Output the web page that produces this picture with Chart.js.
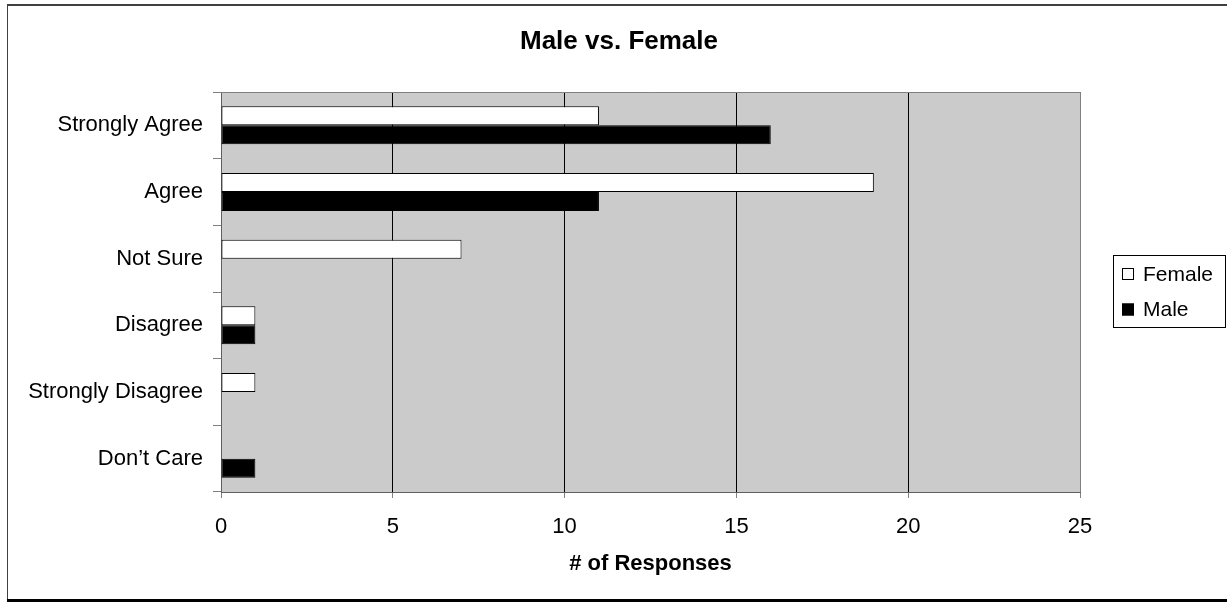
<!DOCTYPE html>
<html>
<head>
<meta charset="utf-8">
<title>Male vs. Female</title>
<script src="https://cdn.jsdelivr.net/npm/chart.js"></script>
<style>
  html, body { margin: 0; padding: 0; background: #fff; }
  #wrap { width: 1227px; height: 603px; position: relative; }
</style>
</head>
<body>
<div id="wrap"><canvas id="genderChart"></canvas></div>
<script>
// survey answers, top to bottom
const categories = ['Strongly Agree', 'Agree', 'Not Sure', 'Disagree', 'Strongly Disagree', 'Don’t Care'];
const femaleCounts = [11, 19, 7, 1, 1, 0];
const maleCounts = [16, 11, 0, 1, 0, 1];
const xTicks = [0, 5, 10, 15, 20, 25];

const FONT = "'Liberation Sans', Arial, sans-serif";

// white page, outer frame and the chart title
const frame = {
    id: 'frame',
    beforeDraw(chart) {
        const ctx = chart.ctx;
        const a = chart.chartArea;
        ctx.save();
        ctx.fillStyle = '#fff';
        ctx.fillRect(0, 0, chart.width, chart.height);
        ctx.fillStyle = '#404040';
        ctx.fillRect(7, 4, chart.width - 7, 2);
        ctx.fillRect(7, 4, 1, 596);
        ctx.fillStyle = '#000';
        ctx.fillRect(7, 599, chart.width - 7, 3);
        // grey plot area
        ctx.fillStyle = '#cbcbcb';
        ctx.fillRect(a.left, a.top, a.right - a.left, a.bottom - a.top);
        ctx.fillStyle = '#000';
        ctx.font = 'bold 26px ' + FONT;
        ctx.textAlign = 'center';
        ctx.textBaseline = 'alphabetic';
        ctx.fillText('Male vs. Female', 619, 49);
        ctx.restore();
    },
    afterDatasetsDraw(chart) {
        const ctx = chart.ctx;
        const a = chart.chartArea;
        ctx.save();
        ctx.strokeStyle = '#808080';
        ctx.lineWidth = 1;
        ctx.beginPath();
        ctx.moveTo(a.left, a.top + 0.5);
        ctx.lineTo(a.right + 0.5, a.top + 0.5);
        ctx.lineTo(a.right + 0.5, a.bottom);
        ctx.stroke();
        ctx.restore();
    }
};

// legend in a box on the right, like the original
const boxedLegend = {
    id: 'boxedLegend',
    afterDraw(chart) {
        const ctx = chart.ctx;
        ctx.save();
        ctx.strokeStyle = '#000';
        ctx.lineWidth = 1;
        ctx.strokeRect(1113.5, 255.5, 112, 72);
        ctx.font = '21px ' + FONT;
        ctx.textAlign = 'left';
        ctx.textBaseline = 'middle';
        chart.data.datasets.forEach((ds, i) => {
            const y = 274 + i * 35.5;
            ctx.fillStyle = ds.backgroundColor;
            ctx.fillRect(1122, y - 6, 12, 12);
            ctx.strokeRect(1122.5, y - 5.5, 11, 11);
            ctx.fillStyle = '#000';
            ctx.fillText(ds.label, 1143, y + 1);
        });
        ctx.restore();
    }
};

const ctx = document.getElementById('genderChart').getContext('2d');

const genderChart = new Chart(ctx, {
    type: 'bar',
    data: {
        labels: categories,
        datasets: [{
            label: 'Female',
            data: femaleCounts,
            backgroundColor: '#ffffff',
            borderColor: '#000000',
            borderWidth: 1,
            borderSkipped: false
        }, {
            label: 'Male',
            data: maleCounts,
            backgroundColor: '#000000',
            borderColor: '#000000',
            borderWidth: 1,
            borderSkipped: false
        }]
    },
    options: {
        indexAxis: 'y',
        responsive: true,
        maintainAspectRatio: false,
        animation: false,
        categoryPercentage: 0.57,
        barPercentage: 1,
        layout: { padding: { top: 92, right: 147, left: 0, bottom: 0 } },
        plugins: {
            legend: { display: false },
            title: { display: false },
            tooltip: { enabled: false }
        },
        scales: {
            x: {
                min: 0,
                max: 25,
                afterBuildTicks: s => { s.ticks = xTicks.map(v => ({ value: v })); },
                afterFit: s => { s.height = 111; },
                grid: {
                    color: c => (c.tick && (c.tick.value === 0 || c.tick.value === 25)) ? '#808080' : '#000000',
                    tickColor: '#808080',
                    tickLength: 6,
                    lineWidth: 1
                },
                border: { color: '#606060', width: 1 },
                ticks: { color: '#000', font: { family: FONT, size: 22 }, padding: 16 },
                title: {
                    display: true,
                    text: '# of Responses',
                    color: '#000',
                    font: { family: FONT, size: 22, weight: 'bold' },
                    padding: { top: 0, bottom: 26 }
                }
            },
            y: {
                afterFit: s => { s.width = 221; },
                grid: {
                    drawOnChartArea: false,
                    tickColor: '#808080',
                    tickLength: 8,
                    offset: true
                },
                border: { color: '#606060', width: 1 },
                ticks: { color: '#000', font: { family: FONT, size: 22 }, padding: 10 }
            }
        }
    },
    plugins: [frame, boxedLegend]
});
</script>
</body>
</html>
